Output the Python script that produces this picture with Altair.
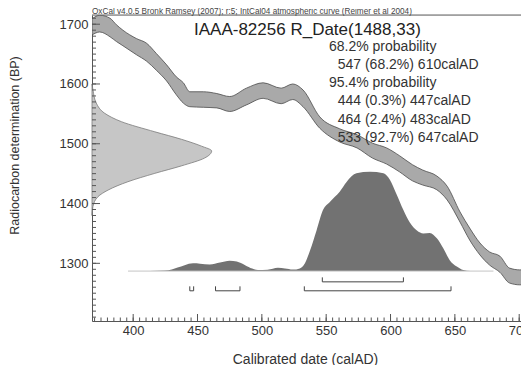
import altair as alt
import pandas as pd

FONT = "Liberation Sans"

# ---- IntCal04 calibration curve band (calAD, BP upper / lower) ----
cal_year = [368, 374, 382, 387, 392, 402.5, 410.5, 418, 426, 433.5, 439, 444, 454.5, 465, 475,
            488, 501, 515, 524, 532, 545, 560.5, 574, 586, 597, 607, 617, 625, 636, 644, 654,
            661.5, 669.5, 677, 685, 692.5, 700.5, 708]
cal_hi = [1709, 1715, 1710, 1699, 1690, 1676, 1668, 1651, 1632, 1612, 1602, 1587, 1587, 1584,
          1579, 1593, 1602, 1593, 1600, 1590, 1545, 1525, 1515, 1501, 1493, 1480, 1465, 1456,
          1446, 1429, 1386, 1359, 1334, 1319, 1312, 1292, 1289, 1290]
cal_lo = [1682, 1687, 1679, 1671, 1664, 1649, 1638, 1623, 1605, 1582, 1568, 1562, 1561, 1560,
          1554, 1565, 1576, 1567, 1574, 1562, 1526, 1503, 1493, 1476, 1466, 1453, 1438, 1431,
          1423, 1406, 1369, 1339, 1314, 1297, 1285, 1267, 1264, 1265]

# ---- calibrated probability distribution (relative) ----
dist_year = [396, 413, 424.5, 430, 434.5, 440, 446.5, 452, 459.5, 467.5, 475, 480.5, 487, 492.5,
             497, 504.5, 512.5, 518, 524, 529.5, 533.5, 537.5, 542.5, 547.5, 553, 560.5, 566,
             573.5, 584, 594.5, 599.5, 604.5, 610, 615, 620.5, 625.5, 630.5, 636, 641, 646,
             651.5, 656.5, 662]
dist_p = [0, 0.002, 0.005, 0.015, 0.035, 0.06, 0.078, 0.075, 0.067, 0.086, 0.104, 0.096, 0.06,
          0.025, 0.01, 0.013, 0.033, 0.025, 0.015, 0.027, 0.08, 0.21, 0.41, 0.615, 0.70, 0.80,
          0.90, 0.985, 1.0, 0.985, 0.92, 0.78, 0.615, 0.49, 0.41, 0.38, 0.385, 0.33, 0.23, 0.11,
          0.045, 0.01, 0]
dist_span = [396, 680]

# ---- radiocarbon measurement R_Date(1488,33) (relative) ----
g_bp = [1380, 1395, 1411.5, 1422.5, 1436.5, 1450.5, 1463, 1476, 1488, 1496, 1507.5, 1520,
        1537, 1551, 1568, 1590, 1600]
g_p = [0, 0.008, 0.05, 0.134, 0.30, 0.525, 0.747, 0.94, 1.0, 0.915, 0.747, 0.525, 0.245,
       0.106, 0.036, 0.008, 0]

# ---- ranges ----
ranges68 = [(547, 610)]
ranges95 = [(444, 447), (464, 483), (533, 647)]

# ---- texts ----
caption = "OxCal v4.0.5 Bronk Ramsey (2007); r:5; IntCal04 atmospheric curve (Reimer et al 2004)"
title_text = "IAAA-82256 R_Date(1488,33)"
legend_lines = ["68.2% probability", "547 (68.2%) 610calAD", "95.4% probability",
                "444 (0.3%) 447calAD", "464 (2.4%) 483calAD", "533 (92.7%) 647calAD"]
legend_indent = [0, 1, 0, 1, 1, 1]

x_major = list(range(400, 701, 50))
x_minor = list(range(370, 701, 5))
y_major = list(range(1300, 1701, 100))
y_minor = list(range(1210, 1711, 10))

XDOM = [368, 701.4]
YDOM = [1203.5, 1715.4]
W, H = 429, 306

xs = alt.Scale(domain=XDOM, nice=False, zero=False)
ys = alt.Scale(domain=YDOM, nice=False, zero=False)

cal_df = pd.DataFrame({"year": cal_year, "hi": cal_hi, "lo": cal_lo})
dist_df = pd.DataFrame({"year": dist_year, "p": dist_p})
g_df = pd.DataFrame({"bp": g_bp, "p": g_p})

band = alt.Chart(cal_df).mark_area(
    fill="#a9a9a9", stroke="#4a4a4a", strokeWidth=0.8, clip=True, interpolate="monotone"
).encode(
    x=alt.X("year:Q", scale=xs, axis=alt.Axis(
        values=x_major, format="d", title="Calibrated date (calAD)", grid=False, ticks=False,
        labelFont=FONT, labelFontSize=13, labelColor="#333", labelPadding=3,
        titleFont=FONT, titleFontSize=14, titleFontWeight="normal", titleColor="#333",
        titleX=213, titleY=38, titleBaseline="middle", titleAlign="center",
        domainColor="#555", domainWidth=1)),
    y=alt.Y("hi:Q", scale=ys, axis=alt.Axis(
        values=y_major, format="d", title="Radiocarbon determination (BP)", grid=False, ticks=False,
        labelFont=FONT, labelFontSize=13, labelColor="#333", labelPadding=4,
        titleFont=FONT, titleFontSize=12.5, titleFontWeight="normal", titleColor="#333",
        titleX=-78, titleY=130, titleAngle=270, titleBaseline="middle", titleAlign="center",
        domainColor="#555", domainWidth=1)),
    y2="lo:Q",
)

gauss = alt.Chart(g_df).transform_calculate(
    gx="368 + 93 * datum.p", g0="368"
).mark_area(
    orient="horizontal", fill="#c6c6c6", stroke="#7a7a7a", strokeWidth=0.8, interpolate="monotone"
).encode(
    y=alt.Y("bp:Q", scale=ys),
    x=alt.X("gx:Q", scale=xs),
    x2="g0:Q",
)

dist = alt.Chart(dist_df).transform_calculate(
    py="1287 + 166 * datum.p", base="1287"
).mark_area(fill="#727272", interpolate="monotone").encode(
    x=alt.X("year:Q", scale=xs),
    y=alt.Y("py:Q", scale=ys),
    y2="base:Q",
)

base_df = pd.DataFrame({"x": [dist_span[0]], "x2": [dist_span[1]], "y": [1287]})
baseline = alt.Chart(base_df).mark_rule(color="#c4c4c4", strokeWidth=1).encode(
    x=alt.X("x:Q", scale=xs), x2="x2:Q", y=alt.Y("y:Q", scale=ys)
)

segs = []
for ranges, lvl in ((ranges68, 1269), (ranges95, 1254)):
    for s, e in ranges:
        segs.append({"x": s, "x2": e, "y": lvl, "y2": lvl})
        segs.append({"x": s, "x2": s, "y": lvl, "y2": lvl + 7.5})
        segs.append({"x": e, "x2": e, "y": lvl, "y2": lvl + 7.5})
brackets = alt.Chart(pd.DataFrame(segs)).mark_rule(color="#444", strokeWidth=1).encode(
    x=alt.X("x:Q", scale=xs), x2="x2:Q", y=alt.Y("y:Q", scale=ys), y2="y2:Q"
)

def yticks(vals, length):
    return alt.Chart(pd.DataFrame({"v": vals})).mark_rule(color="#555", strokeWidth=1).encode(
        y=alt.Y("v:Q", scale=ys), x=alt.value(0), x2=alt.value(length))

def xticks(vals, length):
    return alt.Chart(pd.DataFrame({"v": vals})).mark_rule(color="#555", strokeWidth=1).encode(
        x=alt.X("v:Q", scale=xs), y=alt.value(H), y2=alt.value(H - length))

top_line = alt.Chart(pd.DataFrame({"a": [0]})).mark_rule(color="#666", strokeWidth=1.2).encode(
    x=alt.value(0), x2=alt.value(W), y=alt.value(0))

cap = alt.Chart(pd.DataFrame({"t": [caption]})).mark_text(
    font=FONT, fontSize=8.2, color="#444", align="left", baseline="alphabetic"
).encode(x=alt.value(0), y=alt.value(-1.5), text="t:N")

ttl = alt.Chart(pd.DataFrame({"t": [title_text]})).mark_text(
    font=FONT, fontSize=17, color="#222", align="left", baseline="middle"
).encode(x=alt.value(102), y=alt.value(15), text="t:N")

leg_df = pd.DataFrame({"t": legend_lines, "ind": legend_indent, "i": range(len(legend_lines))})
leg = alt.Chart(leg_df).transform_calculate(
    px="237 + 8.7 * datum.ind", py="31.7 + 18.2 * datum.i"
).mark_text(
    font=FONT, fontSize=14, color="#333", align="left", baseline="middle"
).encode(x=alt.X("px:Q", scale=None), y=alt.Y("py:Q", scale=None), text="t:N")

chart = alt.layer(
    band, gauss, dist, baseline, brackets,
    yticks(y_minor, 4), yticks(y_major, 8), xticks(x_minor, 3.5), xticks(x_major, 7),
    top_line, cap, ttl, leg
).properties(
    width=W, height=H,
    padding={"left": 84, "top": 7, "right": 0, "bottom": 44},
    autosize=alt.AutoSizeParams(type="none"),
).configure_view(strokeWidth=0).configure(background="white")

chart.save("out.html", embed_options={"renderer": "svg", "actions": False})
